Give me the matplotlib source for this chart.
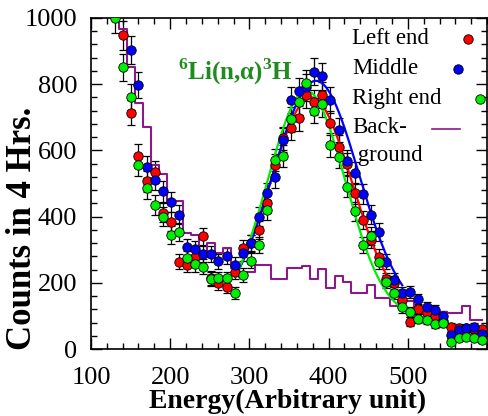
import numpy as np
import matplotlib
matplotlib.use('Agg')
import matplotlib.pyplot as plt
from matplotlib.ticker import MultipleLocator

plt.rcParams['font.family'] = ['Liberation Serif', 'DejaVu Serif']
plt.rcParams['mathtext.fontset'] = 'custom'
plt.rcParams['mathtext.rm'] = 'Liberation Serif'
plt.rcParams['mathtext.bf'] = 'Liberation Serif:bold'

nan = np.nan

# channel energies (arbitrary unit)
energy = [130, 140, 150, 160, 171, 181, 191, 201, 211, 221, 231, 241, 251, 261, 272, 282,
          292, 302, 312, 322, 332, 342, 352, 362, 372, 382, 392, 402, 413, 423, 433, 443,
          453, 463, 473, 483, 493, 503, 513, 524, 534, 544, 554, 564, 574, 584, 594]

left_end = [nan, 948, 714, 584, 506, 534, 412, 385, 264, 254, 279, 340, 215, 198, 188, 232,
            304, 320, 359, 440, 556, 636, 667, 697, 767, 745, 767, 683, 610, 560, 470, 390,
            330, 279, 210, 200, 148, 83, 120, 110, 100, 85, 67, 65, 62, 60, 59]

middle = [nan, nan, 903, 797, 551, 511, 476, 445, 405, 307, 301, 287, 286, 265, 281, 254,
          289, 319, 400, 470, 518, 631, 752, 780, 790, 838, 823, 752, 662, 568, 531, 468,
          405, 354, 264, 208, 170, 173, 150, 126, 118, 100, 42, 57, 62, 67, 45]

right_end = [999, 851, 762, 556, 485, 435, 400, 344, 354, 274, 256, 249, 211, 213, 213, 170,
             224, 267, 314, 420, 571, 583, 694, 745, 803, 720, 740, 616, 581, 490, 416, 314,
             341, 264, 203, 170, 126, 113, 92, 88, 77, 79, 22, 32, 37, 32, 27]

background = [1050, 967, 853, 742, 671, 556, 530, 448, 448, 350, 344, 294, 321, 289, 304, 244,
              218, 234, 254, 254, 212, 212, 246, 246, 251, 211, 241, 183, 220, 201, 170, 170,
              193, 155, 155, 130, 146, 146, 123, 108, 108, 113, 108, 108, 130, 89, 89]

# gaussian fit parameters: centre, sigma, amplitude, offset, range
fit_centre = [378, 384, 372]
fit_sigma = [52, 54, 49]
fit_amp = [660, 710, 690]
fit_offset = [100, 100, 90]
fit_lo = [282, 282, 282]
fit_hi = [480, 493, 495]

labels = ['Left end', 'Middle', 'Right end']
colors = ['#ff0000', '#0000ff', '#00ee00']
series = [left_end, middle, right_end]
bg_color = '#8a1a8a'

fig1 = plt.figure(figsize=(4.89, 4.16), dpi=100)
ax1 = fig1.add_axes([0.186, 0.161, 0.81, 0.796])

x1 = np.array(energy, dtype=float)
for it1 in range(3):
    y1 = np.array(series[it1], dtype=float)
    ax1.errorbar(x1, y1, yerr=np.sqrt(2 * y1), fmt='none', ecolor='black',
                 elinewidth=0.9, capsize=3, capthick=0.9, zorder=2)

for it1 in range(3):
    xf = np.linspace(fit_lo[it1], fit_hi[it1], 300)
    yf = fit_amp[it1] * np.exp(-(xf - fit_centre[it1]) ** 2 / (2 * fit_sigma[it1] ** 2)) + fit_offset[it1]
    ax1.plot(xf, yf, color=colors[it1], lw=1.6, zorder=3)

ax1.step(x1, background, where='mid', color=bg_color, lw=1.5, zorder=2.5)

for it1 in range(3):
    ax1.plot(x1, series[it1], 'o', color=colors[it1], mec='black', mew=0.6, ms=6.8, zorder=4)

ax1.set_xlim(100, 600)
ax1.set_ylim(0, 1000)
ax1.set_xticks([100, 200, 300, 400, 500])
ax1.xaxis.set_minor_locator(MultipleLocator(20))
ax1.yaxis.set_major_locator(MultipleLocator(200))
ax1.yaxis.set_minor_locator(MultipleLocator(40))
ax1.tick_params(which='both', direction='in', top=True, right=True, labelsize=19)
ax1.tick_params(which='major', length=8, width=1)
ax1.tick_params(which='minor', length=4, width=1)
ax1.tick_params(axis='x', pad=13)
ax1.tick_params(axis='y', pad=10)
for it1 in ax1.spines.values():
    it1.set_linewidth(1.2)

fig1.text(0.589, 0.004, 'Energy(Arbitrary unit)', ha='center', va='bottom',
          fontsize=20, fontweight='bold')
fig1.text(0.045, 0.452, 'Counts in 4 Hrs.', ha='center', va='center', rotation=90,
          fontsize=25, fontweight='bold')

ax1.text(0.22, 0.813, r'$^{\mathbf{6}}$Li(n,α)$^{\mathbf{3}}$H', transform=ax1.transAxes,
         color='#1e8c1e', fontsize=18, fontweight='bold', va='baseline')

# hand-placed legend: text left aligned, symbols on the right
leg_y = [0.937, 0.847, 0.756, 0.665]
leg_mx = [0.953, 0.926, 0.982]
for it1 in range(3):
    ax1.text(0.659, leg_y[it1], labels[it1], transform=ax1.transAxes, fontsize=16.5,
             va='center', ha='left')
    ax1.plot([leg_mx[it1]], [leg_y[it1]], 'o', transform=ax1.transAxes, color=colors[it1],
             mec='black', mew=0.6, ms=6.8, clip_on=False, zorder=5)
ax1.text(0.659, leg_y[3] + 0.003, 'Back-', transform=ax1.transAxes, fontsize=16.5,
         va='center', ha='left')
ax1.text(0.659, leg_y[3] - 0.082, ' ground', transform=ax1.transAxes, fontsize=16.5,
         va='center', ha='left')
ax1.plot([0.86, 0.932], [leg_y[3], leg_y[3]], transform=ax1.transAxes, color=bg_color, lw=1.2)

fig1.savefig('out.png', dpi=100)
